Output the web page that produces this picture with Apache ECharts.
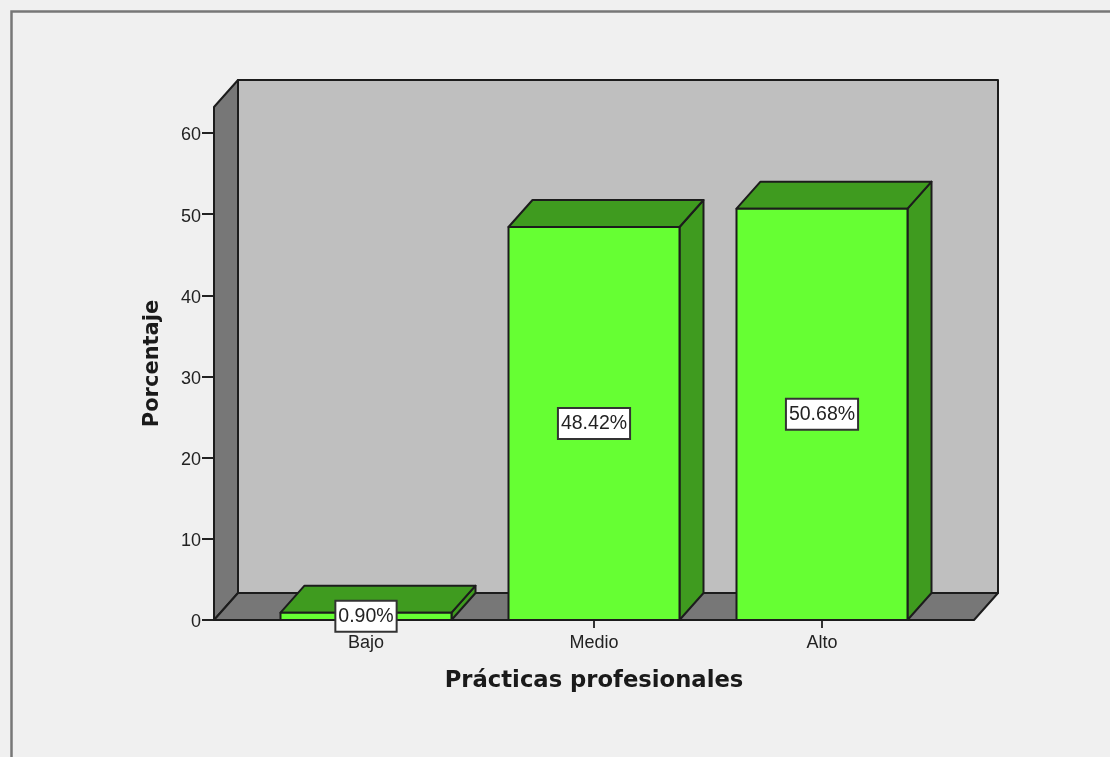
<!DOCTYPE html>
<html>
<head>
<meta charset="utf-8">
<style>html,body{margin:0;padding:0;background:#f0f0f0}#c{width:1110px;height:757px}</style>
<script src="https://cdn.jsdelivr.net/npm/echarts@6/dist/echarts.min.js"></script>
</head>
<body>
<div id="c"></div>
<script>
const categories = ['Bajo', 'Medio', 'Alto'];
const percentages = [0.90, 48.42, 50.68];
const percentLabels = ['0.90%', '48.42%', '50.68%'];
const yTicks = [0, 10, 20, 30, 40, 50, 60];
const yTop = 63.2;
const xTitle = 'Prácticas profesionales';
const yTitle = 'Porcentaje';

const DX = 24, DY = -27, PAD = 38;
const LINE = '#1c1c1c', LW = 2;
const FRONT = '#66ff33', DARK = '#3f9b1f', WALL = '#777777', BACK = '#bfbfbf';

function poly(points, fill) {
  return { type: 'polygon', shape: { points }, style: { fill, stroke: LINE, lineWidth: LW, lineJoin: 'round' } };
}

function renderFrame(params, api) {
  const size = api.size([1, 0])[0];
  const l = api.coord([0, 0])[0] - size / 2 - PAD;
  const r = api.coord([categories.length - 1, 0])[0] + size / 2 + PAD;
  const y0 = api.coord([0, 0])[1];
  const yT = api.coord([0, yTop])[1];
  return { type: 'group', children: [
    poly([[l + DX, yT + DY], [r + DX, yT + DY], [r + DX, y0 + DY], [l + DX, y0 + DY]], BACK),
    poly([[l, yT], [l + DX, yT + DY], [l + DX, y0 + DY], [l, y0]], WALL),
    poly([[l, y0], [l + DX, y0 + DY], [r + DX, y0 + DY], [r, y0]], WALL)
  ] };
}

function renderBar(params, api) {
  const i = api.value(0), v = api.value(1);
  const w = api.size([1, 0])[0] * 0.75;
  const c = api.coord([i, v]);
  const b = api.coord([i, 0]);
  const l = c[0] - w / 2, r = c[0] + w / 2, t = c[1], y0 = b[1];
  return { type: 'group', children: [
    poly([[r, t], [r + DX, t + DY], [r + DX, y0 + DY], [r, y0]], DARK),
    poly([[l, t], [l + DX, t + DY], [r + DX, t + DY], [r, t]], DARK),
    poly([[l, t], [r, t], [r, y0], [l, y0]], FRONT),
    { type: 'text', z2: 10, style: {
        text: percentLabels[params.dataIndex], x: c[0], y: (t + y0) / 2,
        align: 'center', verticalAlign: 'middle',
        font: '19.5px "Liberation Sans", Arial, sans-serif', fill: '#222',
        backgroundColor: '#ffffff', borderColor: '#333', borderWidth: 2,
        padding: [5, 2, 4, 2]
    } }
  ] };
}

const chart = echarts.init(document.getElementById('c'), null, { renderer: 'canvas' });
chart.setOption({
  animation: false,
  backgroundColor: '#f0f0f0',
  graphic: [{
    type: 'polyline', silent: true, z: 0,
    shape: { points: [[11.5, 757], [11.5, 11.5], [1110, 11.5]] },
    style: { fill: 'none', stroke: '#777777', lineWidth: 2.5 }
  }],
  grid: { left: 252, right: 174, top: 107, bottom: 137 },
  xAxis: {
    type: 'category', data: categories, boundaryGap: true,
    axisLine: { show: false },
    axisTick: { show: true, alignWithLabel: true, length: 8, lineStyle: { color: '#333', width: 2 } },
    axisLabel: { color: '#222', fontSize: 18, fontFamily: '"Liberation Sans", Arial, sans-serif', margin: 14 },
    splitLine: { show: false },
    name: xTitle, nameLocation: 'middle', nameGap: 50,
    nameTextStyle: { color: '#1a1a1a', fontSize: 22.7, fontWeight: 'bold', fontFamily: '"DejaVu Sans", sans-serif' }
  },
  yAxis: {
    type: 'value', min: 0, max: yTop, interval: 10, offset: 38,
    axisLine: { show: false },
    axisTick: { show: true, length: 12, customValues: yTicks, lineStyle: { color: '#222', width: 2 } },
    axisLabel: { color: '#222', fontSize: 18, fontFamily: '"Liberation Sans", Arial, sans-serif', margin: 13, verticalAlign: 'top', lineHeight: 5, customValues: yTicks },
    splitLine: { show: false },
    name: yTitle, nameLocation: 'middle', nameGap: 51,
    nameTextStyle: { color: '#1a1a1a', fontSize: 21, fontWeight: 'bold', fontFamily: '"DejaVu Sans", sans-serif' }
  },
  series: [
    { type: 'custom', name: 'frame', coordinateSystem: 'cartesian2d', silent: true, z: 1,
      renderItem: renderFrame, data: [[0, 0]], encode: { x: 0, y: 1 } },
    { type: 'custom', name: 'Porcentaje', coordinateSystem: 'cartesian2d', silent: true, z: 2,
      renderItem: renderBar, encode: { x: 0, y: 1 },
      data: percentages.map((v, i) => [i, v]) }
  ]
});
</script>
</body>
</html>
